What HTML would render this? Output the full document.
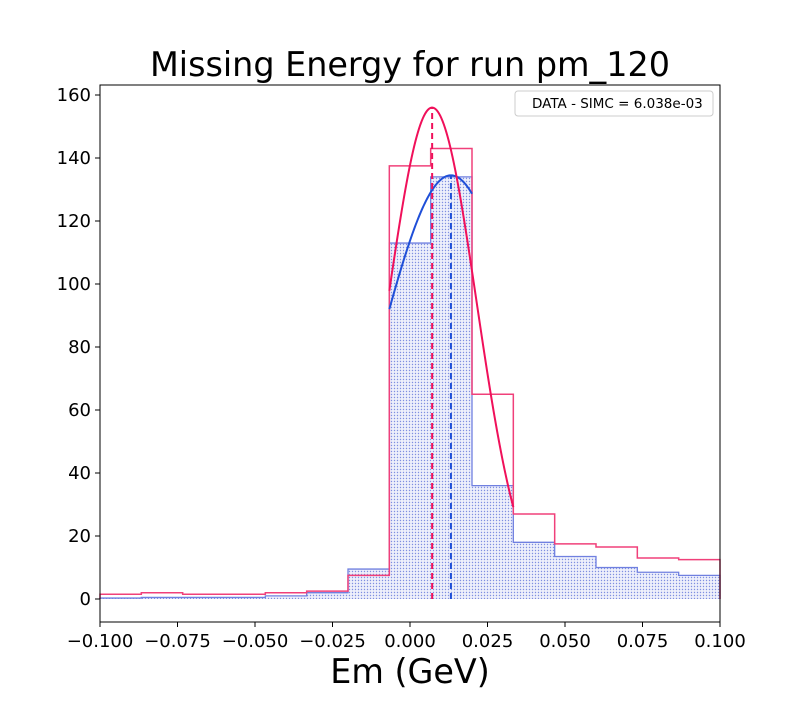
<!DOCTYPE html>
<html><head><meta charset="utf-8"><style>
body{margin:0;background:#fff;}
svg text{font-family:"DejaVu Sans","Liberation Sans",sans-serif;}
</style></head><body>
<svg id="chart" width="800" height="700" viewBox="0 0 800 700" xmlns="http://www.w3.org/2000/svg">
<defs>
<pattern id="dots" width="3" height="3" patternUnits="userSpaceOnUse">
<rect width="3" height="3" fill="#eef0fb"/>
<circle cx="1.5" cy="1.5" r="0.7" fill="#7f8fe0"/>
</pattern>
</defs>
<g id="marks"></g>
<g id="axes"></g>
<text x="410" y="76" font-size="33.4" text-anchor="middle">Missing Energy for run pm_120</text>
<text x="410" y="683" font-size="33.4" text-anchor="middle">Em (GeV)</text>
<g>
<rect x="515" y="91" width="198" height="25" rx="3" fill="#fff" stroke="#ccc"/>
<text x="532" y="108" font-size="13.5">DATA - SIMC = 6.038e-03</text>
</g>
</svg>
<script>
const binEdges=[-0.1,-0.08667,-0.07333,-0.06,-0.04667,-0.03333,-0.02,-0.00667,0.00667,0.02,0.03333,0.04667,0.06,0.07333,0.08667,0.1];
const simcValues=[0.3,0.5,0.5,0.5,1,2,9.5,113,134,36,18,13.5,10,8.5,7.5];
const dataValues=[1.5,2,1.5,1.5,2,2.5,7.5,137.5,143,65,27,17.5,16.5,13,12.5];
const xTicks=[-0.1,-0.075,-0.05,-0.025,0,0.025,0.05,0.075,0.1];
const xTickLabels=["\u22120.100","\u22120.075","\u22120.050","\u22120.025","0.000","0.025","0.050","0.075","0.100"];
const yTicks=[0,20,40,60,80,100,120,140,160];
const simcFit={amp:134.5,mean:0.0132,sigma:0.0228,lo:-0.00667,hi:0.02};
const dataFit={amp:156,mean:0.00714,sigma:0.0143,lo:-0.00667,hi:0.03333};

const L=100,R=720,T=85,B=622;
const xs=v=>L+(v+0.1)/0.2*(R-L);
const ys=v=>599-v*3.15;
const NS="http://www.w3.org/2000/svg";
const marks=document.getElementById('marks'),axes=document.getElementById('axes');
function mk(tag,attrs,parent){const e=document.createElementNS(NS,tag);for(const k in attrs)e.setAttribute(k,attrs[k]);parent.appendChild(e);return e;}
function stepPath(vals){let d=`M${xs(binEdges[0])},${ys(0)}`;vals.forEach((v,i)=>{d+=`L${xs(binEdges[i])},${ys(v)}L${xs(binEdges[i+1])},${ys(v)}`;});d+=`L${xs(binEdges[binEdges.length-1])},${ys(0)}`;return d;}

const sf=mk('path',{d:stepPath(simcValues)+'Z',fill:'url(#dots)',stroke:'none'},marks);


const sl=mk('path',{d:stepPath(simcValues),fill:'none',stroke:'#7080e0','stroke-width':1.3},marks);


const dl=mk('path',{d:stepPath(dataValues),fill:'none',stroke:'#f0407a','stroke-width':1.5},marks);



function curve(f,color,name){let d='';for(let i=0;i<=100;i++){const x=f.lo+(f.hi-f.lo)*i/100;const y=f.amp*Math.exp(-((x-f.mean)**2)/(2*f.sigma*f.sigma));d+=(i?'L':'M')+xs(x)+','+ys(y);}
const p=mk('path',{d,fill:'none',stroke:color,'stroke-width':2},marks);


const m=mk('line',{x1:xs(f.mean),x2:xs(f.mean),y1:ys(0),y2:ys(f.amp),stroke:color,'stroke-width':2,'stroke-dasharray':'6,4'},marks);

}
curve(simcFit,'#1f4fd8','simc-gaussian-fit');
curve(dataFit,'#f0105a','data-gaussian-fit');

const frame=mk('rect',{x:L,y:T,width:R-L,height:B-T,fill:'none',stroke:'#000','stroke-width':1},axes);


xTicks.forEach((t,i)=>{const x=xs(t);mk('line',{x1:x,x2:x,y1:B,y2:B+5,stroke:'#000'},axes);
const tx=mk('text',{x:x,y:B+25,'font-size':18,'text-anchor':'middle'},axes);tx.textContent=xTickLabels[i];

});
yTicks.forEach(t=>{const y=ys(t);mk('line',{x1:L-5,x2:L,y1:y,y2:y,stroke:'#000'},axes);
const tx=mk('text',{x:L-9,y:y+6,'font-size':18,'text-anchor':'end'},axes);tx.textContent=t;

});
</script>
</body></html>
